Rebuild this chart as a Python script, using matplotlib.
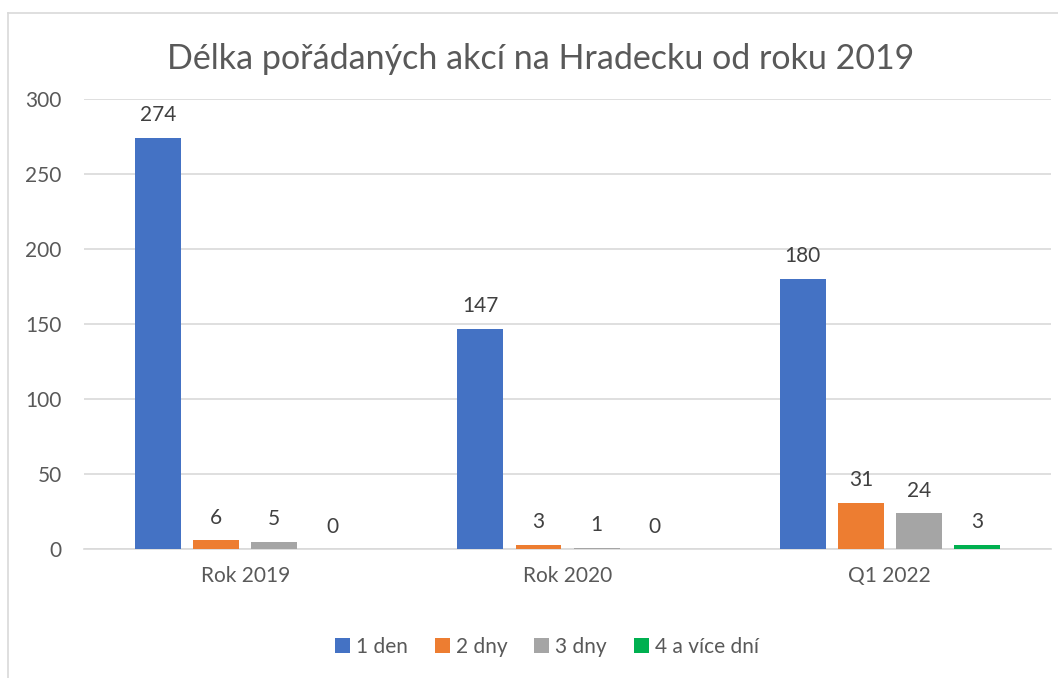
import matplotlib.pyplot as plt
from matplotlib.lines import Line2D
import numpy as np

categories = ['Rok 2019', 'Rok 2020', 'Q1 2022']
series_names = ['1 den', '2 dny', '3 dny', '4 a více dní']
den1 = [274, 147, 180]
dny2 = [6, 3, 31]
dny3 = [5, 1, 24]
dni4 = [0, 0, 3]
colors = ['#4472C4', '#ED7D31', '#A5A5A5', '#00B050']

plt.rcParams['font.family'] = ['Lato', 'DejaVu Sans']

fig = plt.figure(figsize=(10.58, 6.78), dpi=100)
ax = fig.add_axes([0.0794, 0.1898, 0.914, 0.6646])

x = np.arange(len(categories))
width = 0.1427
step = 0.18
for i, (vals, name, c) in enumerate(zip([den1, dny2, dny3, dni4], series_names, colors)):
    pos = x + (i - 1.5) * step
    bars = ax.bar(pos, vals, width, color=c, label=name, zorder=3)
    for b, v in zip(bars, vals):
        ax.annotate(str(v), (b.get_x() + b.get_width() / 2, v), xytext=(0, 9),
                    textcoords='offset points', ha='center', va='bottom',
                    fontsize=15, color='#404040')

ax.set_xlim(-0.5, 2.5)
ax.set_ylim(0, 300)
ax.set_yticks(range(0, 301, 50))
ax.set_xticks(x)
ax.set_xticklabels(categories)
ax.tick_params(axis='both', length=0, labelsize=15, colors='#595959')
ax.tick_params(axis='y', pad=16)
ax.tick_params(axis='x', pad=12)
ax.grid(axis='y', color='#D9D9D9', linewidth=1.2, zorder=0)
for s in ['top', 'right', 'left']:
    ax.spines[s].set_visible(False)
ax.spines['bottom'].set_color('#D9D9D9')
ax.spines['bottom'].set_linewidth(1.2)

fig.text(0.511, 0.913, 'Délka pořádaných akcí na Hradecku od roku 2019',
         ha='center', va='center', fontsize=24.5, color='#595959')

fig.legend(loc='center', bbox_to_anchor=(0.517, 0.046), ncol=4, frameon=False,
           fontsize=15, labelcolor='#595959', handlelength=0.7, handleheight=0.7,
           handletextpad=0.3, columnspacing=1.3)

# chart border (only left and top visible)
fig.add_artist(Line2D([0.008, 0.008], [0, 0.981], color='#D9D9D9', lw=1.2, transform=fig.transFigure))
fig.add_artist(Line2D([0.008, 1.0], [0.981, 0.981], color='#D9D9D9', lw=1.2, transform=fig.transFigure))

fig.savefig('out.png', dpi=100)
